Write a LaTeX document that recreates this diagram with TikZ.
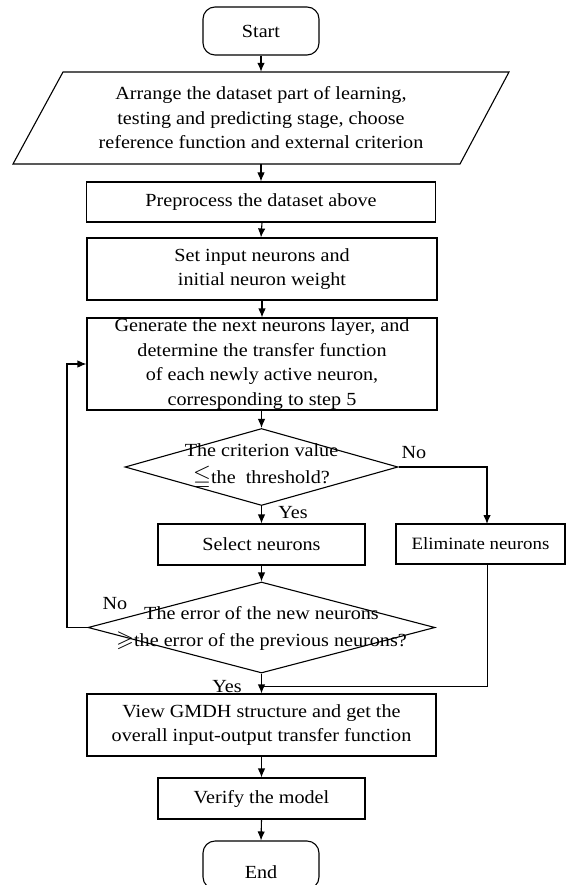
\documentclass[tikz,border=0pt]{standalone}
\usepackage{amssymb}
\usepackage{fontspec}
\setmainfont{Liberation Serif}[FakeStretch=1.09]
\usetikzlibrary{arrows.meta,shapes.geometric}
\begin{document}
\begin{tikzpicture}[x=1pt,y=-1pt,
  every node/.style={font=\fontsize{18.5}{24.5}\selectfont, align=center, inner sep=0pt},
  box/.style={draw, rectangle, line width=1.1pt},
  term/.style={draw, rectangle, rounded corners=12pt, line width=1.1pt, minimum width=116pt, minimum height=48pt},
  dia/.style={draw, diamond, line width=1.1pt},
  conn/.style={-{Latex[length=9pt,width=7.5pt]}, line width=1.1pt},
  plain/.style={line width=1.1pt},
  thinl/.style={line width=0.8pt},
  lab/.style={font=\fontsize{18.5}{20}\selectfont},
  dtext/.style={font=\fontsize{18.5}{27}\selectfont}
]
\useasboundingbox (0,0) rectangle (568,885);
\fill[white] (0,0) rectangle (568,885);

% nodes
\node[term] (start) at (261,31) {Start};
\node[minimum width=400pt, minimum height=92pt] (arrange) at (261,118)
  {Arrange the dataset part of learning,\\ testing and predicting stage, choose\\ reference function and external criterion};
\draw[plain] (63,72) -- (509,72) -- (460,164) -- (13,164) -- cycle;
\node[box, minimum width=349pt, minimum height=40pt] (prep) at (261,202) {Preprocess the dataset above};
\node[box, minimum width=350pt, minimum height=62pt] (setn) at (262,269) {Set input neurons and\\ initial neuron weight};
\node[box, minimum width=350pt, minimum height=92pt] (gen) at (262,364)
  {Generate the next neurons layer, and\\ determine the transfer function\\ of each newly active neuron,\\ corresponding to step 5};
\node[dia, minimum width=273pt, minimum height=77pt] (d1) at (261.5,467) {};
\node[dtext] (d1t) at (261.5,467) {The criterion value\\ {\fontsize{23}{27}\selectfont$\leqq$}the\ \ threshold?};
\node[box, minimum width=207pt, minimum height=41pt] (sel) at (261.5,544.5) {Select neurons};
\node[box, minimum width=169pt, minimum height=40pt, font=\fontsize{17.3}{20}\selectfont] (elim) at (480.5,544) {Eliminate neurons};
\node[dia, minimum width=347pt, minimum height=91pt] (d2) at (261.5,627.5) {};
\node[dtext] (d2t) at (261.5,628.5) {The error of the new neurons\\ {\fontsize{23}{27}\selectfont$\geqslant$}the error of the previous neurons?};
\node[box, minimum width=349pt, minimum height=62pt] (view) at (261.5,725)
  {View GMDH structure and get the\\ overall input-output transfer function};
\node[box, minimum width=207pt, minimum height=41pt] (ver) at (261.5,798.5) {Verify the model};
\node[term] (endn) at (261,865) {};
\node (endt) at (261,872) {End};

% labels
\node[lab] (no1) at (414,453) {No};
\node[lab] (yes1) at (293,513) {Yes};
\node[lab] (no2) at (115,604) {No};
\node[lab] (yes2) at (227,687) {Yes};

% helper coordinates
\coordinate (ek) at (487,524);
\coordinate (lp) at (67,364);
\coordinate (jn) at (261.5,686);

% connectors
\draw[conn] (start.south) -- (start.south |- arrange.north);
\draw[conn] (arrange.south -| prep.north) -- (prep.north);
\draw[conn] (prep.south -| setn.north) -- (setn.north -| prep.south);
\draw[conn] (setn.south -| gen.north) -- (gen.north -| setn.south);
\draw[conn] (gen.south -| d1.north) -- (d1.north);
\draw[conn] (d1.south) -- (sel.north);
\draw[conn] (d1.east) -| (ek);
\draw[conn] (sel.south) -- (d2.north);
\draw[conn] (d2.south) -- (view.north);
\draw[conn] (d2.west) -| (lp) -- (lp -| gen.west);
\draw[thinl] (elim.south -| ek) |- (jn);
\draw[conn] (view.south) -- (ver.north);
\draw[conn] (ver.south) -- (endn.north);
\end{tikzpicture}
\end{document}
